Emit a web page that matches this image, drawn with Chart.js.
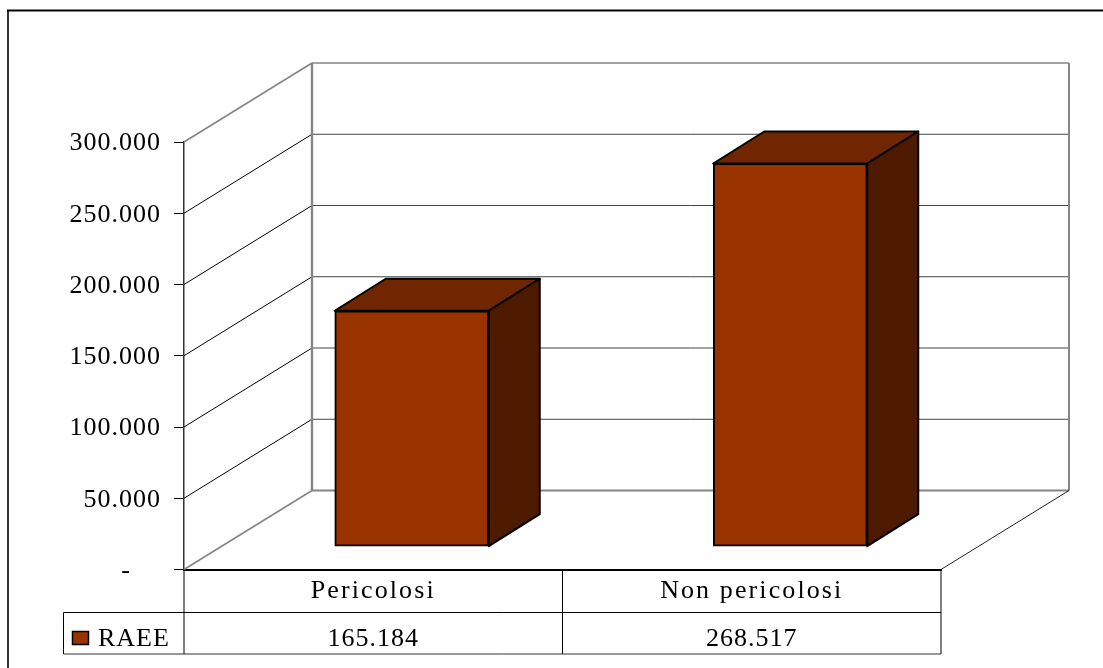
<!DOCTYPE html>
<html><head><meta charset="utf-8">
<script src="https://cdn.jsdelivr.net/npm/chart.js@4"></script>
<style>html,body{margin:0;padding:0;background:#fff;overflow:hidden}canvas{display:block}</style>
</head><body><canvas id="c" width="1103" height="668"></canvas>
<script>
const categories = ['Pericolosi', 'Non pericolosi'];
const seriesName = 'RAEE';
const seriesValues = [165184, 268517];
const tickStep = 50000;
const axisMax = 300000;

const FONT = '26px "Liberation Serif"';
const SPACING = '1px';
const CAT_SPACING = '2.1px';
const fmt = v => v === 0 ? '-\u00A0\u00A0\u00A0\u00A0' : String(v).replace(/\B(?=(\d{3})+$)/g, '.');
const WALL = {dx: 128, dy: -79};
const BAR = {dx: 51, dy: -32};
const GRAY = '#858585';

function line(ctx, x1, y1, x2, y2, color, w) {
  ctx.beginPath(); ctx.moveTo(x1, y1); ctx.lineTo(x2, y2);
  ctx.strokeStyle = color; ctx.lineWidth = w; ctx.stroke();
}
function poly(ctx, pts, fill) {
  ctx.beginPath(); pts.forEach((p, i) => i ? ctx.lineTo(p[0], p[1]) : ctx.moveTo(p[0], p[1]));
  ctx.closePath(); ctx.fillStyle = fill; ctx.fill();
  ctx.strokeStyle = '#000'; ctx.lineWidth = 2; ctx.lineJoin = 'round'; ctx.stroke();
}

const scene = {
  id: 'scene',
  beforeDraw(chart) {
    const ctx = chart.ctx, sx = chart.scales.x;
    ctx.letterSpacing = SPACING;
    if (!sx._spaced) {
      const orig = sx.drawLabels;
      sx.drawLabels = function (a) { ctx.letterSpacing = CAT_SPACING; orig.call(this, a); ctx.letterSpacing = SPACING; };
      sx._spaced = true;
    }
  },
  beforeDatasetsDraw(chart) {
    const {ctx, chartArea: a, scales: {y}} = chart;
    const x0 = a.left, x1 = a.right, yb = a.bottom;
    ctx.save();
    // frame
    line(ctx, 8, 10, 8, 668, '#333', 2);
    line(ctx, 7, 10.5, 1103, 10.5, '#000', 2);
    // grid on the walls
    y.ticks.forEach(t => {
      const py = y.getPixelForValue(t.value);
      if (t.value === 0 || t.value === axisMax) return;
      line(ctx, x0, py, x0 + WALL.dx, py + WALL.dy, '#000', 1);
      line(ctx, x0 + WALL.dx, py + WALL.dy, x1 + WALL.dx, py + WALL.dy, '#444', 1);
    });
    const top = y.getPixelForValue(axisMax);
    // wall outline
    line(ctx, x0, top, x0 + WALL.dx, top + WALL.dy, GRAY, 1.6);
    line(ctx, x0, yb, x0 + WALL.dx, yb + WALL.dy, GRAY, 1.6);
    line(ctx, x0 + WALL.dx, top + WALL.dy, x1 + WALL.dx, top + WALL.dy, GRAY, 1.6);
    line(ctx, x0 + WALL.dx, yb + WALL.dy, x1 + WALL.dx, yb + WALL.dy, GRAY, 2);
    line(ctx, x0 + WALL.dx, top + WALL.dy, x0 + WALL.dx, yb + WALL.dy, GRAY, 2.4);
    line(ctx, x1 + WALL.dx, top + WALL.dy, x1 + WALL.dx, yb + WALL.dy, GRAY, 2);
    line(ctx, x1, yb, x1 + WALL.dx, yb + WALL.dy, '#222', 1);
    // bar depth faces
    chart.getDatasetMeta(0).data.forEach(b => {
      const l = b.x - b.width / 2, r = b.x + b.width / 2, t = b.y, bt = b.base;
      poly(ctx, [[l, t], [l + BAR.dx, t + BAR.dy], [r + BAR.dx, t + BAR.dy], [r, t]], '#702600');
      poly(ctx, [[r, t], [r + BAR.dx, t + BAR.dy], [r + BAR.dx, bt + BAR.dy], [r, bt]], '#4d1a00');
    });
    ctx.restore();
  },
  afterDraw(chart) {
    const {ctx, chartArea: a, scales: {x}} = chart;
    const yb = a.bottom, rowY = 612.5, endY = 654;
    ctx.save();
    // data table
    const cell = (x.getPixelForValue(1) - x.getPixelForValue(0));
    const edges = [a.left, a.left + cell, a.left + 2 * cell];
    edges.forEach(ex => line(ctx, ex, yb, ex, endY, '#000', 1));
    line(ctx, 63.5, rowY, a.right, rowY, '#000', 1);
    line(ctx, 63.5, endY, a.right, endY, '#333', 1);
    line(ctx, 63.5, rowY, 63.5, endY, '#000', 1);
    ctx.font = FONT; ctx.fillStyle = '#000'; ctx.textBaseline = 'middle';
    ctx.textAlign = 'center';
    seriesValues.forEach((v, i) => ctx.fillText(fmt(v), x.getPixelForValue(i), 639));
    ctx.textAlign = 'left';
    ctx.fillText(seriesName, 98, 639);
    ctx.fillStyle = '#993300'; ctx.fillRect(72.5, 631.5, 16, 13);
    ctx.strokeStyle = '#000'; ctx.lineWidth = 1.5; ctx.strokeRect(72.5, 631.5, 16, 13);
    ctx.restore();
  }
};

new Chart(document.getElementById('c'), {
  type: 'bar',
  data: {
    labels: categories,
    datasets: [{
      label: seriesName,
      data: seriesValues.map((v, i) => ({x: i, y: v})),
      xAxisID: 'x2', yAxisID: 'y2',
      backgroundColor: '#993300', borderColor: '#000', borderWidth: 2, borderSkipped: false,
      barThickness: 154
    }]
  },
  options: {
    responsive: false, animation: false, devicePixelRatio: 1,
    layout: {padding: {top: 142, right: 162, left: 0, bottom: 0}},
    plugins: {legend: {display: false}, title: {display: false}, tooltip: {enabled: false}},
    scales: {
      x: {
        type: 'category', offset: true,
        grid: {display: false, drawTicks: false},
        border: {color: '#000', width: 2},
        ticks: {font: {family: 'Liberation Serif', size: 26}, color: '#000', padding: 6, maxRotation: 0},
        afterFit(s) { s.height = 98.5; }
      },
      y: {
        min: 0, max: axisMax,
        grid: {drawOnChartArea: false, drawTicks: true, tickLength: 10, color: '#000'},
        border: {color: '#333', width: 1.5},
        ticks: {stepSize: tickStep, font: {family: 'Liberation Serif', size: 26}, color: '#000', padding: 13, labelOffset: 1.5, callback: v => fmt(v)},
        afterFit(s) { s.width = 184; }
      },
      x2: {type: 'linear', display: false, offset: false, min: -0.6017, max: 1.3983, grid: {display: false}},
      y2: {type: 'linear', display: false, min: -16400, max: 283600, grid: {display: false}}
    }
  },
  plugins: [scene]
});
</script></body></html>
